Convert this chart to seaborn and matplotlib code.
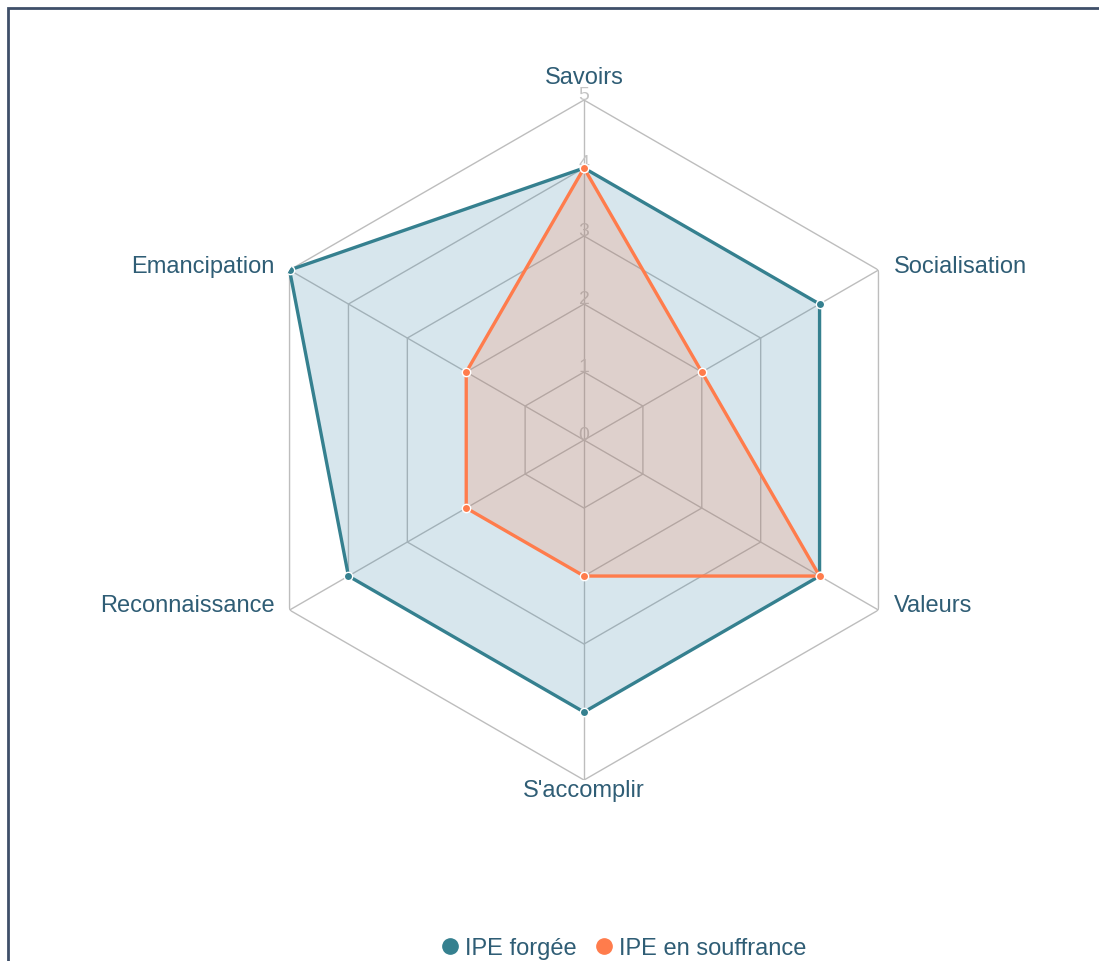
import numpy as np
import matplotlib
matplotlib.use("Agg")
import matplotlib.pyplot as plt
from matplotlib.lines import Line2D
from matplotlib.patches import Rectangle
import seaborn as sns

categories = ["Savoirs", "Socialisation", "Valeurs", "S'accomplir", "Reconnaissance", "Emancipation"]
forgee = [4, 4, 4, 4, 4, 5]
souffrance = [4, 2, 4, 2, 2, 2]
levels = [0, 1, 2, 3, 4, 5]
series_names = ["IPE forgée", "IPE en souffrance"]

sns.set_theme(style="white")
plt.rcParams["font.family"] = ["Liberation Sans", "DejaVu Sans"]

TEAL = "#35808f"
TEAL_FILL = "#3a85a8"
ORANGE = "#ff7c4c"
LABEL = "#2f5d75"
GRID = "#bdbdbd"

fig = plt.figure(figsize=(10.99, 9.61), dpi=100)
fig.patch.set_facecolor("white")
ax = fig.add_axes([0.2220, 0.1883, 0.6188, 0.7076], projection="polar")
ax.set_theta_offset(np.pi / 2)
ax.set_theta_direction(-1)
ax.set_ylim(0, 5)
ax.grid(False)
ax.spines["polar"].set_visible(False)
ax.set_xticks([])
ax.set_yticks([])
ax.set_facecolor("none")

n = len(categories)
angles = np.linspace(0, 2 * np.pi, n, endpoint=False)
closed = np.concatenate([angles, angles[:1]])

# hexagonal grid rings and spokes
for lv in levels[1:]:
    ax.plot(closed, [lv] * (n + 1), color=GRID, lw=1.0, zorder=1)
for a in angles:
    ax.plot([a, a], [0, levels[-1]], color=GRID, lw=1.0, zorder=1)

# level numbers along the first spoke
for lv in levels:
    ax.annotate(str(lv), xy=(0, lv), xytext=(0, 3), textcoords="offset points",
                ha="center", va="center", fontsize=14, color="#c4c4c4", zorder=2)

# series
for vals, col, fcol, fill_alpha in [(forgee, TEAL, TEAL_FILL, 0.2),
                                    (souffrance, ORANGE, ORANGE, 0.2)]:
    v = np.array(vals + vals[:1], dtype=float)
    ax.fill(closed, v, color=fcol, alpha=fill_alpha, lw=0, zorder=3)
    ax.plot(closed, v, color=col, lw=2.4, zorder=4)
    ax.plot(angles, vals, "o", color=col, ms=6, mec="white", mew=1.0, zorder=5)

# category labels
offsets = [((0, 16), "center", "center"),
           ((11, 2), "left", "center"),
           ((11, 3), "left", "center"),
           ((0, -8), "center", "center"),
           ((-11, 3), "right", "center"),
           ((-11, 2), "right", "center")]
for a, cat, (off, ha, va) in zip(angles, categories, offsets):
    ax.annotate(cat, xy=(a, 5), xytext=off, textcoords="offset points",
                ha=ha, va=va, fontsize=17, color=LABEL, annotation_clip=False)

handles = [Line2D([0], [0], marker="o", ls="none", color=TEAL, ms=11),
           Line2D([0], [0], marker="o", ls="none", color=ORANGE, ms=11)]
fig.legend(handles, series_names, loc="center", bbox_to_anchor=(0.561, 0.013),
           ncol=2, frameon=False, fontsize=17, handletextpad=-0.35,
           columnspacing=0.15, labelcolor=LABEL)

# frame
fig.patches.append(Rectangle((8 / 1099, -0.05), 1.2, 953 / 961 + 0.05,
                             transform=fig.transFigure, fill=False,
                             ec="#3f4f69", lw=2))

fig.savefig("out.png", dpi=100)
